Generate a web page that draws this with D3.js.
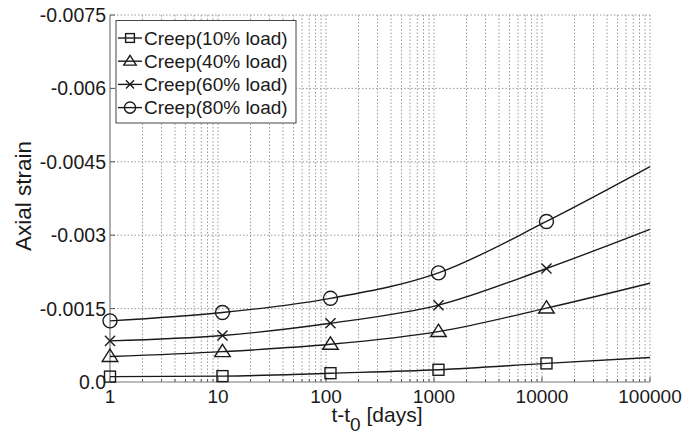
<!DOCTYPE html>
<html lang="en">
<head>
  <meta charset="UTF-8" />
  <title>Axial strain creep</title>
  <script src="https://cdn.jsdelivr.net/npm/d3@7"></script>
  <style>
    body { margin: 0; background: #fff; }
    svg { display: block; font-family: "Liberation Sans", Arial, sans-serif; }
    .grid line { stroke: #9a9a9a; stroke-width: 1; stroke-dasharray: 1.5,2; }
    .curve { fill: none; stroke: #1a1a1a; stroke-width: 1.4; }
    .marker { fill: none; stroke: #1a1a1a; stroke-width: 1.4; }
  </style>
</head>
<body>
<svg width="683" height="437"></svg>

<script>
  // time after loading, days (last point is the unmarked curve end)
  const times = [1, 11, 110, 1100, 11000, 100000];
  const markedCount = 5;

  // axial strain per load level
  const creep10 = [-0.00011, -0.00012, -0.00018, -0.00025, -0.00038, -0.00050];
  const creep40 = [-0.00052, -0.00062, -0.00077, -0.00103, -0.00151, -0.00202];
  const creep60 = [-0.00084, -0.00095, -0.00120, -0.00157, -0.00232, -0.00312];
  const creep80 = [-0.00125, -0.00142, -0.00171, -0.00223, -0.00328, -0.00440];

  const seriesNames = ["Creep(10% load)", "Creep(40% load)", "Creep(60% load)", "Creep(80% load)"];
  const seriesSymbols = ["square", "triangle", "cross", "circle"];

  const yTicks = [0, -0.0015, -0.003, -0.0045, -0.006, -0.0075];
  const yTickLabels = ["0.0", "-0.0015", "-0.003", "-0.0045", "-0.006", "-0.0075"];
  const xTicks = [1, 10, 100, 1000, 10000, 100000];

  const series = [creep10, creep40, creep60, creep80].map((vals, i) => ({
    name: seriesNames[i],
    symbol: seriesSymbols[i],
    points: times.map((t, j) => ({ t: t, v: vals[j] }))
  }));

  const svg = d3.select("svg");
  const plotL = 110, plotR = 650, plotT = 15, plotB = 382;

  const x = d3.scaleLog().domain([1, 100000]).range([plotL, plotR]);
  const y = d3.scaleLinear().domain([0, -0.0075]).range([plotB, plotT]);

  // minor + major values for the log grid
  const xGrid = [];
  for (let d = 1; d < 100000; d *= 10) {
    for (let k = 1; k < 10; k++) xGrid.push(d * k);
  }
  xGrid.push(100000);

  const grid = svg.append("g").attr("class", "grid");
  grid.selectAll("line.vx")
    .data(xGrid.filter(v => v > 1))
    .enter().append("line")
    .attr("class", "vx")
    .attr("x1", d => x(d)).attr("x2", d => x(d))
    .attr("y1", plotT).attr("y2", plotB);
  grid.selectAll("line.hy")
    .data(yTicks.filter(v => v !== 0))
    .enter().append("line")
    .attr("class", "hy")
    .attr("x1", plotL).attr("x2", plotR)
    .attr("y1", d => y(d)).attr("y2", d => y(d));

  // inner ticks on both axes
  const ticks = svg.append("g").attr("stroke", "#555").attr("stroke-width", 1);
  ticks.selectAll("line.xt")
    .data(xGrid)
    .enter().append("line")
    .attr("class", "xt")
    .attr("x1", d => x(d)).attr("x2", d => x(d))
    .attr("y1", plotB)
    .attr("y2", d => plotB - (xTicks.includes(d) ? 5 : 3));
  ticks.selectAll("line.yt")
    .data(yTicks)
    .enter().append("line")
    .attr("class", "yt")
    .attr("x1", plotL).attr("x2", plotL + 5)
    .attr("y1", d => y(d)).attr("y2", d => y(d));

  // axis lines
  svg.append("line").attr("x1", plotL).attr("x2", plotL).attr("y1", plotT).attr("y2", plotB)
    .attr("stroke", "#777").attr("stroke-width", 1.2);
  svg.append("line").attr("x1", plotL).attr("x2", plotR).attr("y1", plotB).attr("y2", plotB)
    .attr("stroke", "#777").attr("stroke-width", 1.2);

  // tick labels
  svg.append("g").selectAll("text")
    .data(yTicks)
    .enter().append("text")
    .attr("x", plotL - 4)
    .attr("y", d => y(d))
    .attr("dy", "0.36em")
    .attr("text-anchor", "end")
    .attr("font-size", 19.5)
    .attr("fill", "#1a1a1a")
    .text((d, i) => yTickLabels[i]);

  svg.append("g").selectAll("text")
    .data(xTicks)
    .enter().append("text")
    .attr("x", d => x(d))
    .attr("y", 403)
    .attr("text-anchor", "middle")
    .attr("font-size", 19)
    .attr("fill", "#1a1a1a")
    .text(d => d3.format("d")(d));

  // axis titles
  svg.append("text")
    .attr("transform", "translate(31,196) rotate(-90)")
    .attr("text-anchor", "middle")
    .attr("font-size", 22.5)
    .attr("fill", "#1a1a1a")
    .text("Axial strain");

  const xl = svg.append("text")
    .attr("x", 377)
    .attr("y", 422)
    .attr("text-anchor", "middle")
    .attr("font-size", 21)
    .attr("fill", "#1a1a1a");
  xl.append("tspan").text("t-t");
  xl.append("tspan").attr("font-size", 19).attr("dy", 9).text("0");
  xl.append("tspan").attr("dy", -9).text(" [days]");

  // curves
  const line = d3.line()
    .x(d => x(d.t))
    .y(d => y(d.v))
    .curve(d3.curveMonotoneX);

  svg.append("g").selectAll("path")
    .data(series)
    .enter().append("path")
    .attr("class", "curve")
    .attr("d", d => line(d.points));

  function drawSymbol(g, kind, s) {
    if (kind === "square") {
      g.append("rect").attr("class", "marker")
        .attr("x", -s / 2).attr("y", -s / 2).attr("width", s).attr("height", s);
    } else if (kind === "triangle") {
      const h = s * 0.95;
      g.append("path").attr("class", "marker")
        .attr("d", `M0,${-h * 0.6}L${s * 0.6},${h * 0.4}L${-s * 0.6},${h * 0.4}Z`);
    } else if (kind === "cross") {
      const r = s * 0.42;
      g.append("path").attr("class", "marker")
        .attr("d", `M${-r},${-r}L${r},${r}M${-r},${r}L${r},${-r}`);
    } else {
      g.append("circle").attr("class", "marker").attr("r", s / 2);
    }
  }

  const markerSize = { square: 11, triangle: 13, cross: 12, circle: 14 };

  series.forEach(s => {
    s.points.slice(0, markedCount).forEach(p => {
      const g = svg.append("g").attr("transform", `translate(${x(p.t)},${y(p.v)})`);
      drawSymbol(g, s.symbol, markerSize[s.symbol]);
    });
  });

  // legend
  const legend = svg.append("g");
  legend.append("rect")
    .attr("x", 116).attr("y", 20.5)
    .attr("width", 180).attr("height", 102.5)
    .attr("fill", "#fff")
    .attr("stroke", "#444")
    .attr("stroke-width", 1);

  series.forEach((s, i) => {
    const cy = 38 + i * 23.2;
    const g = legend.append("g");
    g.append("line")
      .attr("x1", 118).attr("x2", 142)
      .attr("y1", cy).attr("y2", cy)
      .attr("stroke", "#1a1a1a").attr("stroke-width", 1.4);
    const m = g.append("g").attr("transform", `translate(130,${cy})`);
    drawSymbol(m, s.symbol, markerSize[s.symbol] * 0.8);
    g.append("text")
      .attr("x", 144)
      .attr("y", cy)
      .attr("dy", "0.36em")
      .attr("font-size", 19)
      .attr("fill", "#1a1a1a")
      .text(s.name);
  });
</script>

</body>
</html>
